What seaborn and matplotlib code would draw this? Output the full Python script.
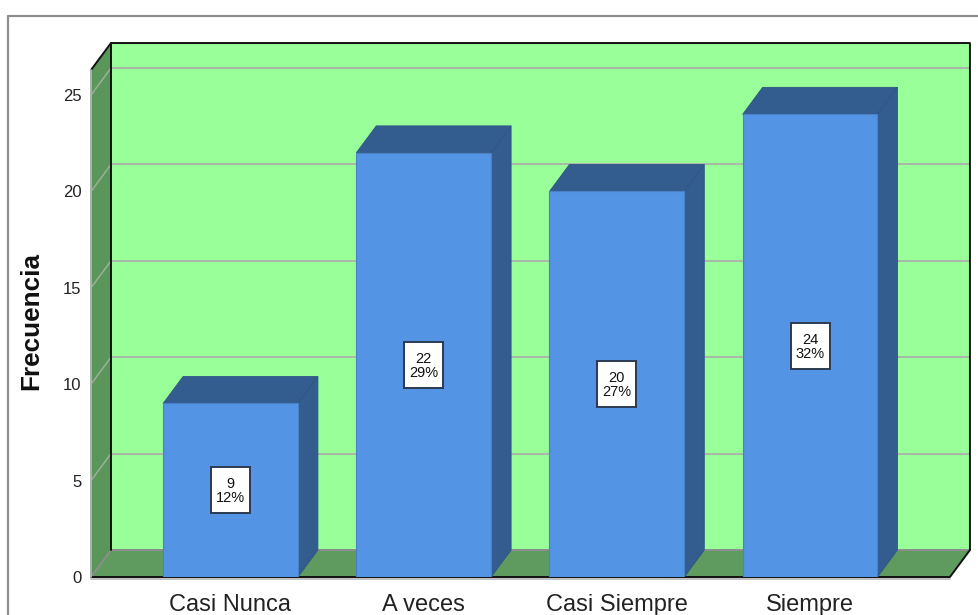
import matplotlib
matplotlib.use("Agg")
import matplotlib.pyplot as plt
from matplotlib.lines import Line2D
from matplotlib.patches import Rectangle
import seaborn as sns
import pandas as pd

categories = ["Casi Nunca", "A veces", "Casi Siempre", "Siempre"]
counts = [9, 22, 20, 24]
percents = [12, 29, 27, 32]
y_ticks = [0, 5, 10, 15, 20, 25]
y_label = "Frecuencia"

sns.set_style("white")
plt.rcParams["font.family"] = ["Liberation Sans", "DejaVu Sans"]

W, H = 979, 615
fig = plt.figure(figsize=(W / 100, H / 100), dpi=100, facecolor="white")
ax = fig.add_axes([91 / W, (H - 577) / H, 880 / W, 534 / H])
ax.patch.set_visible(False)

df = pd.DataFrame({"cat": categories, "n": counts})
BAR = "#5394E4"
SHADE = "#335C8F"
half = 0.349
sns.barplot(data=df, x="cat", y="n", color=BAR, saturation=1, width=2 * half,
            edgecolor="#4A80C4", linewidth=0.8, ax=ax, zorder=6)

xl, xr, xmax = -0.722, 3.724, 3.833
ymax = 27.7
dx, dy = 0.1035, 1.40
ytop = ymax - dy
ax.set_xlim(xl, xmax)
ax.set_ylim(0, ymax)

WALL = "#99FF99"
SIDE = "#5A965A"
FLOOR = "#5F9B5F"
GRID = "#ABB8A8"

ax.fill([xl + dx, xr + dx, xr + dx, xl + dx], [dy, dy, ymax, ymax], color=WALL, lw=0, zorder=1)
ax.fill([xl, xl + dx, xl + dx, xl], [0, dy, ymax, ytop], color=SIDE, lw=0, zorder=1)
ax.fill([xl, xr, xr + dx, xl + dx], [0, 0, dy, dy], color=FLOOR, lw=0, zorder=1)

for t in y_ticks[1:]:
    ax.plot([xl, xl + dx], [t, t + dy], color="#9DAF9A", lw=1.1, zorder=2)
    ax.plot([xl + dx, xr + dx], [t + dy, t + dy], color=GRID, lw=1.4, zorder=2)
ax.plot([xl, xl + dx, xr + dx], [0, dy, dy], color="#8C8C8C", lw=1.4, zorder=2)

edge = dict(color="#111111", lw=1.4, zorder=3, clip_on=False, solid_capstyle="round")
ax.plot([xl, xl + dx, xr + dx, xr + dx, xr, xl], [ytop, ymax, ymax, dy, 0, 0], **edge)
ax.plot([xl + dx, xl + dx], [dy, ymax], **edge)
ax.plot([xl, xl], [0, ytop], color="#A8B5A8", lw=1.4, zorder=3, clip_on=False)
ax.plot([xl, xr], [-0.08, -0.08], color="#B5B5B5", lw=1.2, zorder=7, clip_on=False)

for i, v in enumerate(counts):
    ax.fill([i - half, i + half, i + half + dx, i - half + dx], [v, v, v + dy, v + dy],
            facecolor=SHADE, edgecolor="#2F5586", lw=0.6, zorder=5)
    ax.fill([i + half, i + half + dx, i + half + dx, i + half], [0, dy, v + dy, v],
            facecolor=SHADE, edgecolor="#2F5586", lw=0.6, zorder=5)
    bw, bh = 39 / 193.2, 46 / 19.28
    ax.add_patch(Rectangle((i - bw / 2, v / 2 - bh / 2), bw, bh, facecolor="white",
                           edgecolor="#2A3A50", lw=1.4, zorder=7))
    ax.text(i, v / 2 - 0.05, f"{v}\n{percents[i]}%", ha="center", va="center", fontsize=10.5,
            linespacing=1.02, color="#111111", zorder=8)

ax.set_xlabel("")
ax.set_ylabel("")
ax.set_yticks(y_ticks)
ax.set_yticklabels([str(t) for t in y_ticks], fontsize=12, color="#222222")
ax.tick_params(axis="y", length=0, pad=7)
ax.tick_params(axis="x", length=0, pad=12, labelsize=17, labelcolor="#222222")
sns.despine(ax=ax, left=True, bottom=True)

fig.text(31.5 / W, 1 - 321 / H, y_label, rotation=90, ha="center", va="center",
         fontsize=18.8, fontweight="bold", color="#111111")

frame = dict(color="#8E8E8E", lw=1.6, transform=fig.transFigure)
fig.add_artist(Line2D([8.5 / W, 8.5 / W, 1], [0, 1 - 15.5 / H, 1 - 15.5 / H], **frame))

fig.savefig("out.png", dpi=100)
